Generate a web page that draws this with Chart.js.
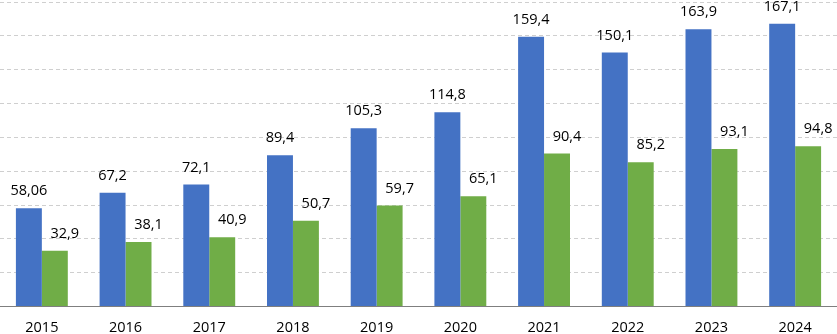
<!DOCTYPE html>
<html>
<head>
<meta charset="utf-8">
<script src="https://cdn.jsdelivr.net/npm/chart.js@4"></script>
<style>
  html, body { margin: 0; padding: 0; background: #fff; overflow: hidden; }
  canvas { display: block; }
</style>
</head>
<body>
<canvas id="myChart" width="837" height="334"></canvas>
<script>
const years = ['2015', '2016', '2017', '2018', '2019', '2020', '2021', '2022', '2023', '2024'];
const blueValues = [58.06, 67.2, 72.1, 89.4, 105.3, 114.8, 159.4, 150.1, 163.9, 167.1];
const greenValues = [32.9, 38.1, 40.9, 50.7, 59.7, 65.1, 90.4, 85.2, 93.1, 94.8];

// labels above the bars, decimal comma
const valueLabels = {
  id: 'valueLabels',
  afterDatasetsDraw(chart) {
    const ctx = chart.ctx;
    ctx.save();
    ctx.font = '14.5px "Open Sans"';
    ctx.fillStyle = '#000';
    ctx.textAlign = 'center';
    ctx.textBaseline = 'alphabetic';
    chart.data.datasets.forEach((ds, i) => {
      const shift = i === 1 ? 10 : 0;
      chart.getDatasetMeta(i).data.forEach((bar, j) => {
        const txt = String(ds.data[j]).replace('.', ',');
        ctx.fillText(txt, bar.x + shift, bar.y - 13);
      });
    });
    ctx.restore();
  }
};

const ctx = document.getElementById('myChart');
let myChart = new Chart(ctx, {
  type: 'bar',
  data: {
    labels: years,
    datasets: [{
        label: 'A',
        data: blueValues,
        backgroundColor: '#4472C4',
        categoryPercentage: 0.62,
        barPercentage: 1
      },
      {
        label: 'B',
        data: greenValues,
        backgroundColor: '#70AD47',
        categoryPercentage: 0.62,
        barPercentage: 1
      }
    ]
  },
  options: {
    responsive: false,
    animation: false,
    layout: { padding: { top: 2, left: 0, right: 0, bottom: 0 } },
    plugins: {
      legend: { display: false },
      tooltip: { enabled: false }
    },
    scales: {
      x: {
        afterFit: (scale) => { scale.height = 27.5; },
        grid: { display: false, drawTicks: false },
        border: { display: true, color: '#7f7f7f', width: 1 },
        ticks: {
          color: '#000',
          padding: 16,
          font: { family: '"Open Sans"', size: 14.5, lineHeight: '11px' },
          maxRotation: 0
        }
      },
      y: {
        min: 0,
        max: 180,
        ticks: { display: false, stepSize: 20 },
        border: { display: false, dash: [4, 3] },
        grid: { color: '#cfcfcf', drawTicks: false, tickLength: 0 }
      }
    }
  },
  plugins: [valueLabels]
});
</script>
</body>
</html>
